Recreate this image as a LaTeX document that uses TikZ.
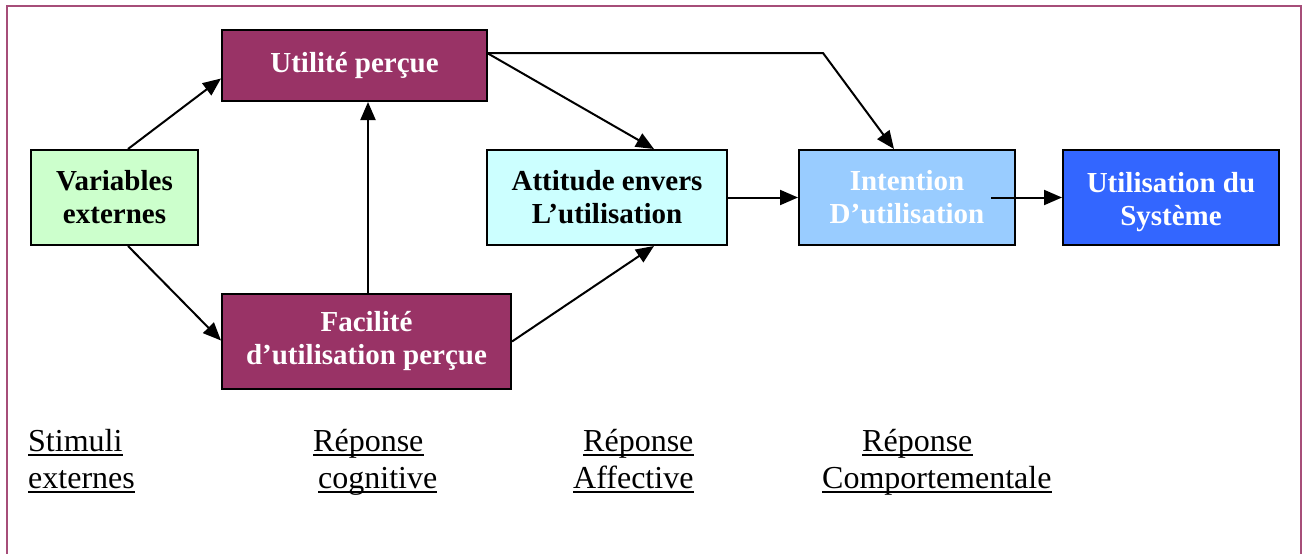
\documentclass[tikz,border=0pt]{standalone}
\usepackage{fontspec}
\setmainfont{Liberation Serif}
\usetikzlibrary{arrows.meta}
\definecolor{framec}{RGB}{166,77,121}
\definecolor{plum}{HTML}{993366}
\definecolor{lgreen}{HTML}{CCFFCC}
\definecolor{lcyan}{HTML}{CCFFFF}
\definecolor{lblue}{HTML}{99CCFF}
\definecolor{rblue}{HTML}{3366FF}
\tikzset{
  box/.style={draw=black, line width=2pt, rectangle, align=center, inner sep=0pt,
    font=\bfseries\fontsize{29}{33}\selectfont},
  arr/.style={line width=2pt, -{Triangle[length=18pt,width=15pt]}},
  lab/.style={anchor=base west, inner sep=0pt, font=\fontsize{32}{37}\selectfont},
  ulline/.style={line width=2pt},
}
\newcommand\ulab[4]{\node[lab] (#1) at (#2,#3) {#4};
  \draw[ulline] ([yshift=-4pt]#1.base west) -- ([yshift=-4pt]#1.base east);}
\begin{document}
\begin{tikzpicture}[x=1pt,y=-1pt]
\useasboundingbox (0,0) rectangle (1309,554);
\draw[framec, line width=2pt] (7,580) -- (7,6) -- (1301,6) -- (1301,580);

\node[box, fill=lgreen, minimum width=167pt, minimum height=95pt] (var) at (114.5,197.5) {Variables\\externes};
\node[box, fill=plum, text=white, minimum width=265pt, minimum height=71pt] (util) at (354.5,65.5) {Utilité perçue};
\node[box, fill=plum, text=white, minimum width=289pt, minimum height=95pt] (fac) at (366.5,341.5) {Facilité\\d’utilisation perçue};
\node[box, fill=lcyan, minimum width=240pt, minimum height=95pt] (att) at (607,197.5) {Attitude envers\\L’utilisation};
\node[box, fill=lblue, text=white, minimum width=216pt, minimum height=95pt] (int) at (907,197.5) {Intention\\D’utilisation};
\node[box, fill=rblue, text=white, minimum width=216pt, minimum height=95pt] (sys) at (1171,197.5) {\rule{0pt}{30pt}Utilisation du\\Système};

\coordinate (c1) at (823,53);
\draw[arr] ([xshift=13.5pt]var.north) -- ([yshift=-13pt]util.west);
\draw[arr] ([xshift=13.5pt]var.south) -- ([yshift=1pt]fac.west);
\draw[arr] ([xshift=1.5pt]fac.north) -- ([xshift=1.5pt]fac.north |- util.south);
\draw[arr] ([yshift=12pt]util.east) -- ([xshift=47pt]att.north);
\draw[arr] ([yshift=0pt]fac.east) -- ([xshift=47pt]att.south);
\draw[arr] ([yshift=12.5pt]util.east) -- (c1) -- ([xshift=-13pt]int.north);
\draw[arr] (att.east) -- (int.west);
\draw[arr] ([xshift=-25pt]int.east) -- (sys.west);

\ulab{l1a}{28}{451}{Stimuli}
\ulab{l1b}{28}{488}{externes}
\ulab{l2a}{313}{451}{Réponse}
\ulab{l2b}{318}{488}{cognitive}
\ulab{l3a}{583}{451}{Réponse}
\ulab{l3b}{573}{488}{Affective}
\ulab{l4a}{862}{451}{Réponse}
\ulab{l4b}{822}{488}{Comportementale}
\end{tikzpicture}
\end{document}
